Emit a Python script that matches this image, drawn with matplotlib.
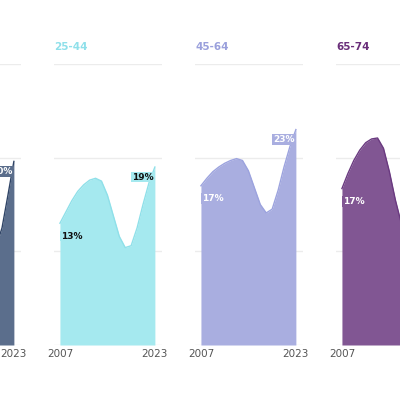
import matplotlib.pyplot as plt

years = list(range(2007, 2024))
groups = ['18-24', '25-44', '45-64', '65-74']
values = [
    [14, 15, 16, 16.8, 17.3, 17.5, 17.3, 16.5, 14.5, 12.5, 11, 10, 10, 10.5, 12.5, 16, 19.6],
    [13, 14.2, 15.4, 16.4, 17.1, 17.6, 17.8, 17.5, 16, 13.8, 11.6, 10.4, 10.6, 12.5, 15, 17.3, 19],
    [17, 17.8, 18.5, 19, 19.4, 19.7, 19.9, 19.7, 18.6, 16.8, 15, 14.1, 14.5, 16.5, 19, 21.2, 23],
    [16.7, 18.3, 19.7, 20.8, 21.6, 22, 22.1, 21, 18.5, 15.5, 13, 12, 12.5, 14, 16.5, 19, 21],
]
fills = ['#5b6e8c', '#a5e9ef', '#a9aee0', '#815693']
lines = ['#2f4466', '#8fe0e9', '#9ca3de', '#6a3a80']
title_colors = ['#2f4466', '#8fe0ea', '#9aa0dc', '#6a2f7a']
text_colors = ['white', '#111111', 'white', 'white']

fig = plt.figure(figsize=(4, 4), dpi=100)
for i in range(4):
    left = (-87 + 141 * i) / 400
    ax = fig.add_axes([left, 0.1375, 0.27, 0.7025])
    v = values[i]
    ax.fill_between(years, v, 0, color=fills[i], lw=0)
    ax.plot(years, v, color=lines[i], lw=1)
    ax.set_xlim(2006, 2024.2)
    ax.set_ylim(0, 30)
    for s in ax.spines.values():
        s.set_visible(False)
    ax.set_yticks([0, 10, 20, 30])
    ax.set_yticklabels([])
    ax.grid(axis='y', color='#ececec', lw=1)
    ax.set_axisbelow(True)
    ax.set_xticks([2007, 2023])
    ax.tick_params(axis='both', length=0, labelsize=7.5, labelcolor='#555555', pad=3)
    box = dict(boxstyle='square,pad=0.1', fc=fills[i], ec='none')
    # first panel lies mostly outside the picture: only its end label is visible
    if i > 0:
        ax.text(0, 1.06, groups[i], transform=ax.transAxes, color=title_colors[i],
                fontsize=7.5, fontweight='bold', va='center')
        ax.annotate(f'{v[0]:.0f}%', (years[0], v[0]), xytext=(1, -6), textcoords='offset points',
                    ha='left', va='top', fontsize=6.5, fontweight='bold', color=text_colors[i], bbox=box)
    ax.annotate(f'{v[-1]:.0f}%', (years[-1], v[-1]), xytext=(-1, -4), textcoords='offset points',
                ha='right', va='top', fontsize=6.5, fontweight='bold', color=text_colors[i], bbox=box)

fig.savefig('out.png')
